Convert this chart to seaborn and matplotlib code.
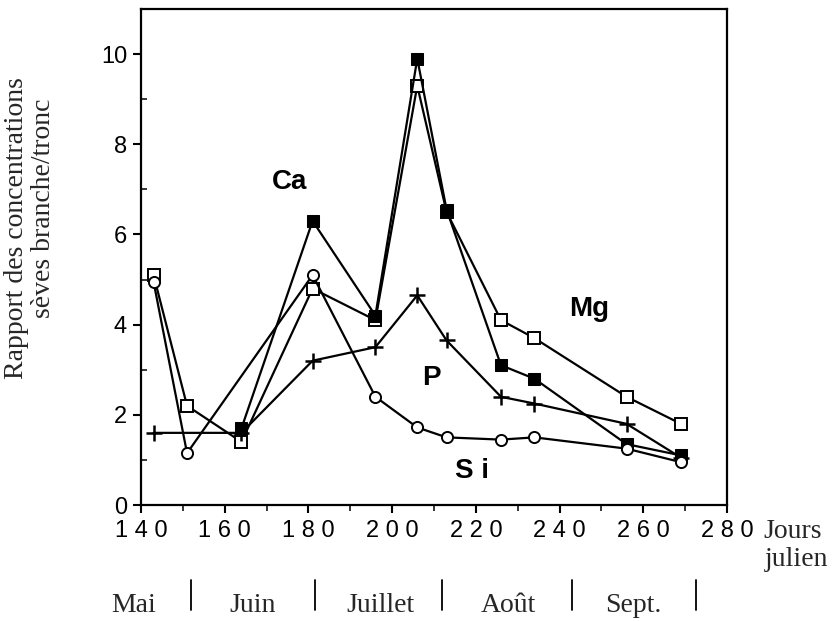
import numpy as np
import pandas as pd
import matplotlib
matplotlib.use("Agg")
import matplotlib.pyplot as plt
import matplotlib.transforms as mtransforms
from matplotlib.ticker import MultipleLocator, FuncFormatter
import seaborn as sns

# ── data ──
days_mg = [143, 151, 164, 181, 196, 206, 213, 226, 234, 256, 269]
mg = [5.1, 2.2, 1.4, 4.8, 4.1, 9.3, 6.5, 4.1, 3.7, 2.4, 1.8]

days_ca = [164, 181, 196, 206, 213, 226, 234, 256, 269]
ca = [1.7, 6.3, 4.2, 9.9, 6.55, 3.1, 2.8, 1.35, 1.1]

days_p = [143, 164, 181, 196, 206, 213, 226, 234, 256, 269]
p = [1.6, 1.6, 3.2, 3.5, 4.65, 3.65, 2.4, 2.25, 1.8, 1.05]

days_si = [143, 151, 181, 196, 206, 213, 226, 234, 256, 269]
si = [4.95, 1.15, 5.1, 2.4, 1.72, 1.5, 1.45, 1.5, 1.25, 0.95]

month_names = ["Mai", "Juin", "Juillet", "Août", "Sept."]
month_centers = [138.3, 166.6, 197.2, 227.8, 257.5]
month_bounds = [152, 181.6, 212, 243, 272.5]

sns.set_style("ticks")
plt.rcParams["font.family"] = ["Liberation Sans", "DejaVu Sans"]
serif = ["Liberation Serif", "DejaVu Serif"]

W, H = 833, 621
fig = plt.figure(figsize=(W / 100, H / 100), dpi=100)
ax = fig.add_axes([141 / W, 1 - 505 / H, 586 / W, 496 / H])

lw = 1.6
sns.lineplot(x=days_mg, y=mg, ax=ax, color="black", lw=lw, marker="s",
             markersize=9, markerfacecolor="white", markeredgecolor="black",
             markeredgewidth=1.4)
sns.lineplot(x=days_ca, y=ca, ax=ax, color="black", lw=lw, marker="s",
             markersize=9, markerfacecolor="black", markeredgecolor="black")
sns.lineplot(x=days_p, y=p, ax=ax, color="black", lw=lw, marker="+",
             markersize=11, markeredgewidth=1.8, markeredgecolor="black")
sns.lineplot(x=days_si, y=si, ax=ax, color="black", lw=lw, marker="o",
             markersize=8, markerfacecolor="white", markeredgecolor="black",
             markeredgewidth=1.4)

ax.set_xlim(140, 280)
ax.set_ylim(0, 11)
ax.xaxis.set_major_locator(MultipleLocator(20))
ax.xaxis.set_minor_locator(MultipleLocator(10))
ax.yaxis.set_major_locator(MultipleLocator(2))
ax.yaxis.set_minor_locator(MultipleLocator(1))
# the original prints the x tick digits widely spaced
ax.xaxis.set_major_formatter(FuncFormatter(lambda v, pos: " ".join(f"{v:.0f}")))
ax.tick_params(which="major", direction="out", length=6, width=1.5,
               labelsize=17, colors="black")
ax.tick_params(axis="x", which="minor", direction="out", length=4, width=1.3)
ax.tick_params(axis="y", which="minor", direction="in", length=4, width=1.3)
ax.tick_params(axis="x", pad=5)
ax.tick_params(axis="y", pad=4)
for s in ax.spines.values():
    s.set_visible(True)
    s.set_linewidth(1.6)
    s.set_color("black")

# series labels
lab = dict(fontsize=20, fontweight="bold", color="black", ha="center", va="baseline")
ax.text(175.5, 7.0, "Ca", **lab)
ax.text(247, 4.19, "Mg", **lab)
ax.text(209.3, 2.66, "P", **lab)
ax.text(219, 0.6, "S i", **lab)

# y axis caption (two lines, slightly offset as in the original)
ax.set_ylabel("")
fig.text(17 / W, 1 - 228 / H, "Rapport des concentrations", rotation=90,
         ha="center", va="center", family=serif, fontsize=20)
fig.text(44 / W, 1 - 208 / H, "sèves branche/tronc", rotation=90,
         ha="center", va="center", family=serif, fontsize=20)
ax.set_xlabel("")

# x axis caption to the right of the last tick
fig.text(763 / W, 1 - 532 / H, "Jours", ha="left", va="center",
         family=serif, fontsize=20)
fig.text(765 / W, 1 - 560 / H, "julien", ha="left", va="center",
         family=serif, fontsize=20)

# month row below the axis
trans = mtransforms.blended_transform_factory(ax.transData, fig.transFigure)
for name, c in zip(month_names, month_centers):
    ax.text(c, 1 - 606 / H, name, transform=trans, ha="center", va="center",
            family=serif, fontsize=20, clip_on=False)
for b in month_bounds:
    ax.plot([b, b], [1 - 580 / H, 1 - 610 / H], transform=trans, color="black",
            lw=1.3, clip_on=False)

fig.savefig("out.png", dpi=100)
